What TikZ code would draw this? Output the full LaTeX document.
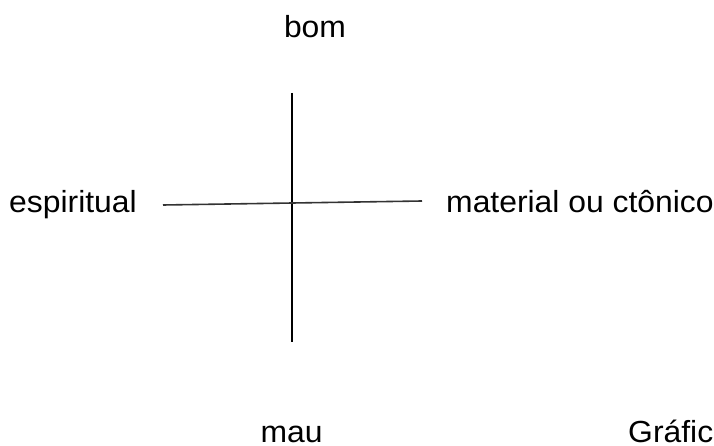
\documentclass[tikz,border=0pt]{standalone}
\usepackage{fontspec}
\setmainfont{Liberation Sans}[FakeStretch=1.045]
\begin{document}
\begin{tikzpicture}[x=1pt,y=-1pt,
  lbl/.style={inner sep=0pt,font=\fontsize{30.5}{36}\selectfont},
  axis/.style={black,line width=1.1pt}]
\useasboundingbox[fill=white] (0,0) rectangle (714,446);
\clip (0,0) rectangle (714,446);
\node[lbl,anchor=base] (bom) at (315,38) {bom};
\node[lbl,anchor=base west] (esp) at (9,213) {espiritual};
\node[lbl,anchor=base west] (mat) at (446,213) {material ou ctônico};
\node[lbl,anchor=base] (mau) at (291.5,442) {mau};
\node[lbl,anchor=base west] (graf) at (628,442) {Gráfico};
\coordinate (top) at (292,93);
\coordinate (bot) at (292,342);
\coordinate (lft) at (163,205);
\coordinate (rgt) at (422,201);
\draw[axis] (top) -- (bot);
\draw[axis,line width=1.6pt,black!80] (lft) -- (rgt);
\end{tikzpicture}
\end{document}
